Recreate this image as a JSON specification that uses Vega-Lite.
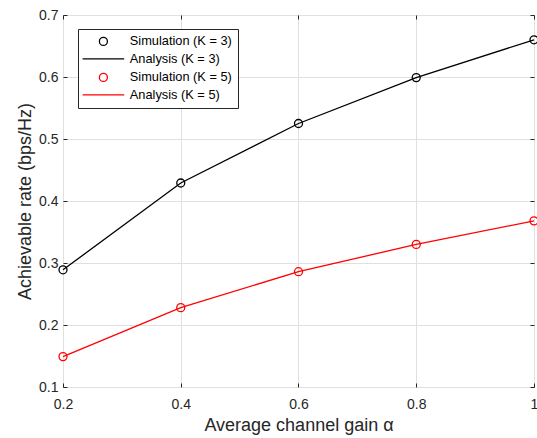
{
  "$schema": "https://vega.github.io/schema/vega-lite/v6.json",
  "width": 471,
  "height": 372,
  "autosize": "none",
  "padding": {"left": 63, "top": 15, "right": 3, "bottom": 51},
  "background": "white",
  "config": {
    "font": "Liberation Sans",
    "view": {"stroke": "#262626", "strokeWidth": 1},
    "axis": {
      "labelFont": "Liberation Sans",
      "titleFont": "Liberation Sans",
      "labelColor": "#262626",
      "titleColor": "#262626",
      "labelFontSize": 14,
      "titleFontSize": 18,
      "titleFontWeight": "normal",
      "tickColor": "#262626",
      "domainColor": "#262626",
      "tickSize": -4,
      "gridColor": "#e0e0e0",
      "gridWidth": 1
    }
  },
  "data": {
    "values": [
      {"alpha": 0.2, "rate": 0.289, "series": "Simulation (K = 3)"},
      {"alpha": 0.4, "rate": 0.429, "series": "Simulation (K = 3)"},
      {"alpha": 0.6, "rate": 0.525, "series": "Simulation (K = 3)"},
      {"alpha": 0.8, "rate": 0.599, "series": "Simulation (K = 3)"},
      {"alpha": 1.0, "rate": 0.660, "series": "Simulation (K = 3)"},
      {"alpha": 0.2, "rate": 0.289, "series": "Analysis (K = 3)"},
      {"alpha": 0.4, "rate": 0.429, "series": "Analysis (K = 3)"},
      {"alpha": 0.6, "rate": 0.525, "series": "Analysis (K = 3)"},
      {"alpha": 0.8, "rate": 0.599, "series": "Analysis (K = 3)"},
      {"alpha": 1.0, "rate": 0.660, "series": "Analysis (K = 3)"},
      {"alpha": 0.2, "rate": 0.149, "series": "Simulation (K = 5)"},
      {"alpha": 0.4, "rate": 0.228, "series": "Simulation (K = 5)"},
      {"alpha": 0.6, "rate": 0.286, "series": "Simulation (K = 5)"},
      {"alpha": 0.8, "rate": 0.330, "series": "Simulation (K = 5)"},
      {"alpha": 1.0, "rate": 0.368, "series": "Simulation (K = 5)"},
      {"alpha": 0.2, "rate": 0.149, "series": "Analysis (K = 5)"},
      {"alpha": 0.4, "rate": 0.228, "series": "Analysis (K = 5)"},
      {"alpha": 0.6, "rate": 0.286, "series": "Analysis (K = 5)"},
      {"alpha": 0.8, "rate": 0.330, "series": "Analysis (K = 5)"},
      {"alpha": 1.0, "rate": 0.368, "series": "Analysis (K = 5)"}
    ]
  },
  "resolve": {"axis": {"x": "independent", "y": "independent"}},
  "layer": [
    {
      "transform": [{"filter": "indexof(datum.series, 'Analysis') === 0"}],
      "mark": {"type": "line", "strokeWidth": 1.3},
      "encoding": {
        "x": {
          "field": "alpha", "type": "quantitative",
          "scale": {"domain": [0.2, 1], "nice": false, "zero": false},
          "axis": {"orient": "bottom", "values": [0.2, 0.4, 0.6, 0.8, 1], "format": ".1~f", "title": "Average channel gain α", "labelPadding": 14, "titlePadding": 5, "domain": false, "labelFlush": false}
        },
        "y": {
          "field": "rate", "type": "quantitative",
          "scale": {"domain": [0.1, 0.7], "nice": false, "zero": false},
          "axis": {"orient": "left", "values": [0.1, 0.2, 0.3, 0.4, 0.5, 0.6, 0.7], "format": ".1~f", "title": "Achievable rate (bps/Hz)", "labelPadding": 9, "titlePadding": 4, "domain": false, "labelFlush": false}
        },
        "color": {
          "field": "series", "type": "nominal",
          "scale": {"domain": ["Simulation (K = 3)", "Analysis (K = 3)", "Simulation (K = 5)", "Analysis (K = 5)"], "range": ["#000000", "#000000", "#ff0000", "#ff0000"]},
          "legend": {
            "title": null, "orient": "none", "legendX": 15, "legendY": 14,
            "strokeColor": "#262626", "fillColor": "white", "padding": 6,
            "labelFont": "Liberation Sans", "labelFontSize": 12.8, "labelColor": "#000000",
            "rowPadding": 3.5, "symbolSize": 64, "symbolOffset": 13, "labelOffset": 20, "symbolStrokeWidth": 1.3
          }
        }
      }
    },
    {
      "transform": [{"filter": "indexof(datum.series, 'Simulation') === 0"}],
      "mark": {"type": "point", "filled": false, "strokeWidth": 1.3, "opacity": 1, "size": 64},
      "encoding": {
        "x": {
          "field": "alpha", "type": "quantitative",
          "axis": {"orient": "top", "values": [0.2, 0.4, 0.6, 0.8, 1], "labels": false, "grid": false, "domain": false, "title": null}
        },
        "y": {
          "field": "rate", "type": "quantitative",
          "axis": {"orient": "right", "values": [0.1, 0.2, 0.3, 0.4, 0.5, 0.6, 0.7], "labels": false, "grid": false, "domain": false, "title": null}
        },
        "color": {"field": "series", "type": "nominal"},
        "shape": {
          "field": "series", "type": "nominal",
          "scale": {"domain": ["Simulation (K = 3)", "Analysis (K = 3)", "Simulation (K = 5)", "Analysis (K = 5)"], "range": ["circle", "M-5.2,0H5.2", "circle", "M-5.2,0H5.2"]}
        }
      }
    }
  ]
}
